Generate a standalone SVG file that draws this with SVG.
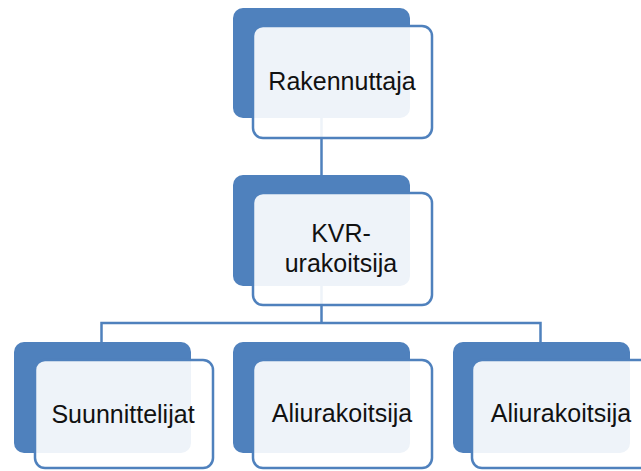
<svg xmlns="http://www.w3.org/2000/svg" width="641" height="471" viewBox="0 0 641 471">
<style>
.back{fill:#4F81BD;}
.front{fill:#FFFFFF;fill-opacity:0.9;stroke:#4F81BD;stroke-width:2.5;}
.lbl{font-family:"Liberation Sans",Arial,sans-serif;font-size:25px;fill:#111;text-anchor:middle;}
.conn{fill:none;stroke:#4F81BD;stroke-width:2.5;}
</style>
<rect width="641" height="471" fill="#FFFFFF"/>
<g id="connectors">
<path class="conn" d="M321.5 118 V176"/>
<path class="conn" d="M321.5 286 V323"/>
<path class="conn" d="M101.5 342 V323 H540.5 V342"/>
</g>
<g id="node-rakennuttaja">
<rect class="back" x="233" y="8" width="177" height="110" rx="10"/>
<rect class="front" x="253" y="26" width="179" height="112" rx="10"/>
<text class="lbl" x="342" y="90">Rakennuttaja</text>
</g>
<g id="node-kvr">
<rect class="back" x="233" y="175" width="177" height="111" rx="10"/>
<rect class="front" x="253" y="193" width="179" height="112" rx="10"/>
<text class="lbl" x="341" y="242">KVR-</text>
<text class="lbl" x="341" y="272">urakoitsija</text>
</g>
<g id="node-suunnittelijat">
<rect class="back" x="14" y="342" width="177" height="111" rx="10"/>
<rect class="front" x="35" y="360" width="178" height="108" rx="10"/>
<text class="lbl" x="123" y="423">Suunnittelijat</text>
</g>
<g id="node-aliurakoitsija1">
<rect class="back" x="233" y="342" width="177" height="111" rx="10"/>
<rect class="front" x="253" y="360" width="179" height="108" rx="10"/>
<text class="lbl" x="342" y="422">Aliurakoitsija</text>
</g>
<g id="node-aliurakoitsija2">
<rect class="back" x="453" y="342" width="177" height="111" rx="10"/>
<rect class="front" x="472" y="360" width="179" height="108" rx="10"/>
<text class="lbl" x="561" y="422">Aliurakoitsija</text>
</g>
</svg>
